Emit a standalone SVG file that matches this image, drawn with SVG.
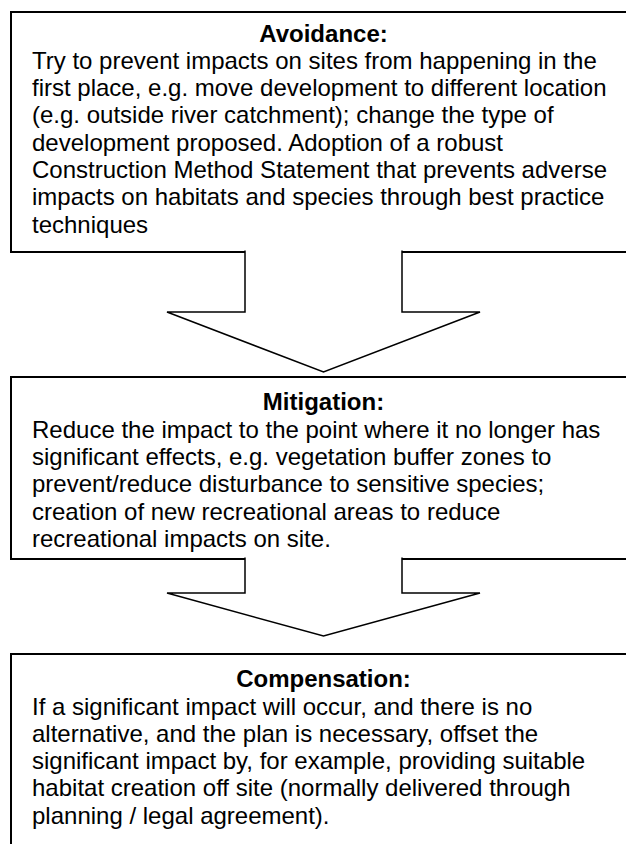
<svg xmlns="http://www.w3.org/2000/svg" width="626" height="844" viewBox="0 0 626 844">
<style>
.box{fill:#fff;stroke:#000;stroke-width:2}
.arr{fill:#fff;stroke:#000;stroke-width:1.5;stroke-linejoin:miter}
text{font-family:"Liberation Sans",Arial,sans-serif;font-size:24px;fill:#000}
.t{font-weight:bold;text-anchor:middle}
</style>
<rect x="0" y="0" width="626" height="844" fill="#fff"/>
<g id="avoidance">
<rect class="box" x="11" y="12" width="640" height="240"/>
<text class="t" x="323.5" y="41.5">Avoidance:</text>
<text x="32" y="68.8">Try to prevent impacts on sites from happening in the</text>
<text x="32" y="96.1">first place, e.g. move development to different location</text>
<text x="32" y="123.4">(e.g. outside river catchment); change the type of</text>
<text x="32" y="150.7">development proposed. Adoption of a robust</text>
<text x="32" y="178">Construction Method Statement that prevents adverse</text>
<text x="32" y="205.3">impacts on habitats and species through best practice</text>
<text x="32" y="232.6">techniques</text>
</g>
<g id="mitigation">
<rect class="box" x="11" y="377" width="640" height="182"/>
<text class="t" x="323.5" y="410">Mitigation:</text>
<text x="32" y="437.6">Reduce the impact to the point where it no longer has</text>
<text x="32" y="464.9">significant effects, e.g. vegetation buffer zones to</text>
<text x="32" y="492.2">prevent/reduce disturbance to sensitive species;</text>
<text x="32" y="519.5">creation of new recreational areas to reduce</text>
<text x="32" y="546.8">recreational impacts on site.</text>
</g>
<g id="compensation">
<rect class="box" x="11" y="654" width="640" height="260"/>
<text class="t" x="323.5" y="687">Compensation:</text>
<text x="32" y="714.5">If a significant impact will occur, and there is no</text>
<text x="32" y="741.8">alternative, and the plan is necessary, offset the</text>
<text x="32" y="769.1">significant impact by, for example, providing suitable</text>
<text x="32" y="796.4">habitat creation off site (normally delivered through</text>
<text x="32" y="823.7">planning / legal agreement).</text>
</g>
<g id="connectors">
<polyline class="arr" points="245,250.5 245,312 167,312 323.5,372 480,312 402,312 402,250.5"/>
<polyline class="arr" points="245,557.5 245,593 167,593 323.5,636 480,593 402,593 402,557.5"/>
</g>
</svg>
